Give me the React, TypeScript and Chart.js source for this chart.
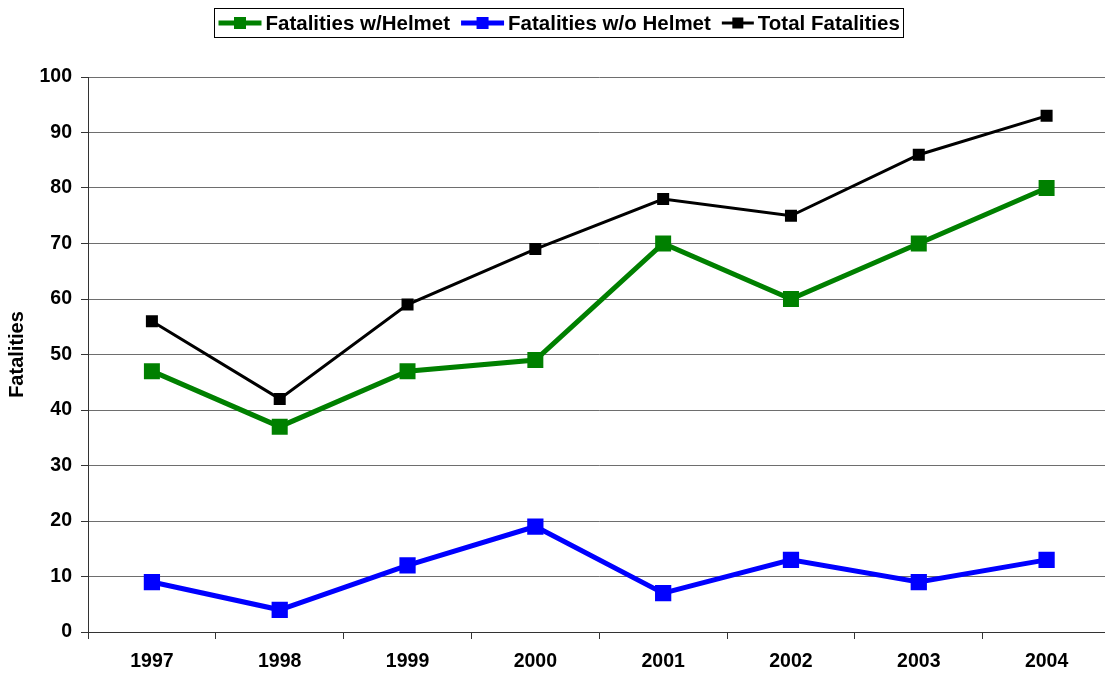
import React, { useEffect, useRef } from "react";
import { Chart, registerables } from "chart.js";

Chart.register(...registerables);

const years = ["1997", "1998", "1999", "2000", "2001", "2002", "2003", "2004"];
const withHelmet = [47, 37, 47, 49, 70, 60, 70, 80];
const withoutHelmet = [9, 4, 12, 19, 7, 13, 9, 13];
const totalFatalities = [56, 42, 59, 69, 78, 75, 86, 93];
const seriesLabels = ["Fatalities w/Helmet", "Fatalities w/o Helmet", "Total Fatalities"];
const seriesColors = ["#008000", "#0000FF", "#000000"];
const yTitle = "Fatalities";

const FONT = '"Liberation Sans", Arial, sans-serif';

const boxLegend = {
  id: "boxLegend",
  afterDraw(chart: any) {
    const ctx = chart.ctx;
    const ds = chart.data.datasets;
    ctx.save();
    ctx.font = `bold 20.5px ${FONT}`;
    const markerW = [43, 43, 32];
    const markerLine = [5, 5, 3];
    const markerSq = [12, 12, 11];
    const gapText = 4;
    const gapItem = 11;
    const pad = 4;
    const widths = ds.map((d: any) => ctx.measureText(d.label).width);
    let total = pad * 2;
    ds.forEach((d: any, i: number) => {
      total += markerW[i] + gapText + widths[i];
      if (i < ds.length - 1) total += gapItem;
    });
    const boxLeft = Math.round(559 - total / 2) + 0.5;
    const boxTop = 8.5;
    const boxH = 29;
    const cy = boxTop + boxH / 2;
    ctx.strokeStyle = "#000";
    ctx.lineWidth = 1;
    ctx.strokeRect(boxLeft, boxTop, Math.round(total), boxH);
    let x = boxLeft + pad;
    ds.forEach((d: any, i: number) => {
      ctx.strokeStyle = d.borderColor;
      ctx.lineWidth = markerLine[i];
      ctx.beginPath();
      ctx.moveTo(x, cy);
      ctx.lineTo(x + markerW[i], cy);
      ctx.stroke();
      ctx.fillStyle = d.borderColor;
      const s = markerSq[i];
      ctx.fillRect(x + markerW[i] / 2 - s / 2, cy - s / 2, s, s);
      x += markerW[i] + gapText;
      ctx.fillStyle = "#000";
      ctx.textBaseline = "middle";
      ctx.textAlign = "left";
      ctx.fillText(d.label, x, cy + 1);
      x += widths[i] + gapItem;
    });
    ctx.restore();
  },
};

export default function App() {
  const ref = useRef<HTMLCanvasElement | null>(null);

  useEffect(() => {
    if (!ref.current) return;
    const chart = new Chart(ref.current, {
      type: "line",
      data: {
        labels: years,
        datasets: [
          {
            label: seriesLabels[0],
            data: withHelmet,
            borderColor: seriesColors[0],
            backgroundColor: seriesColors[0],
            borderWidth: 5,
            pointStyle: "rect",
            pointRadius: 11.3,
            pointBorderWidth: 0,
            tension: 0,
          },
          {
            label: seriesLabels[1],
            data: withoutHelmet,
            borderColor: seriesColors[1],
            backgroundColor: seriesColors[1],
            borderWidth: 5,
            pointStyle: "rect",
            pointRadius: 11.5,
            pointBorderWidth: 0,
            tension: 0,
          },
          {
            label: seriesLabels[2],
            data: totalFatalities,
            borderColor: seriesColors[2],
            backgroundColor: seriesColors[2],
            borderWidth: 3,
            pointStyle: "rect",
            pointRadius: 8.5,
            pointBorderWidth: 0,
            tension: 0,
          },
        ],
      },
      options: {
        responsive: false,
        animation: false,
        layout: { padding: { top: 77, right: 2, left: 0, bottom: 0 } },
        plugins: {
          legend: { display: false },
          tooltip: { enabled: false },
        },
        scales: {
          x: {
            offset: true,
            grid: {
              offset: true,
              drawOnChartArea: false,
              drawTicks: true,
              tickLength: 7,
              tickColor: "#333",
            },
            border: { color: "#333", width: 1 },
            ticks: {
              color: "#000",
              padding: 11,
              font: { family: FONT, size: 19.5, weight: "bold" },
              maxRotation: 0,
            },
            afterFit(scale: any) {
              scale.height = 43;
            },
          },
          y: {
            min: 0,
            max: 100,
            ticks: {
              stepSize: 10,
              color: "#000",
              padding: 9,
              font: { family: FONT, size: 19.5, weight: "bold" },
            },
            grid: {
              color: "#6e6e6e",
              tickColor: "#333",
              tickLength: 7,
            },
            border: { color: "#333", width: 1 },
            title: {
              display: true,
              text: yTitle,
              color: "#000",
              font: { family: FONT, size: 20, weight: "bold" },
              padding: { top: 5, bottom: 0 },
            },
            afterFit(scale: any) {
              scale.width = 88;
            },
          },
        },
      },
      plugins: [boxLegend],
    });
    return () => chart.destroy();
  }, []);

  return (
    <div
      style={{
        position: "fixed",
        left: 0,
        top: 0,
        width: 1105,
        height: 675,
        overflow: "hidden",
        background: "#fff",
      }}
    >
      <canvas ref={ref} width={1122} height={675} style={{ width: 1122, height: 675, display: "block" }} />
    </div>
  );
}
